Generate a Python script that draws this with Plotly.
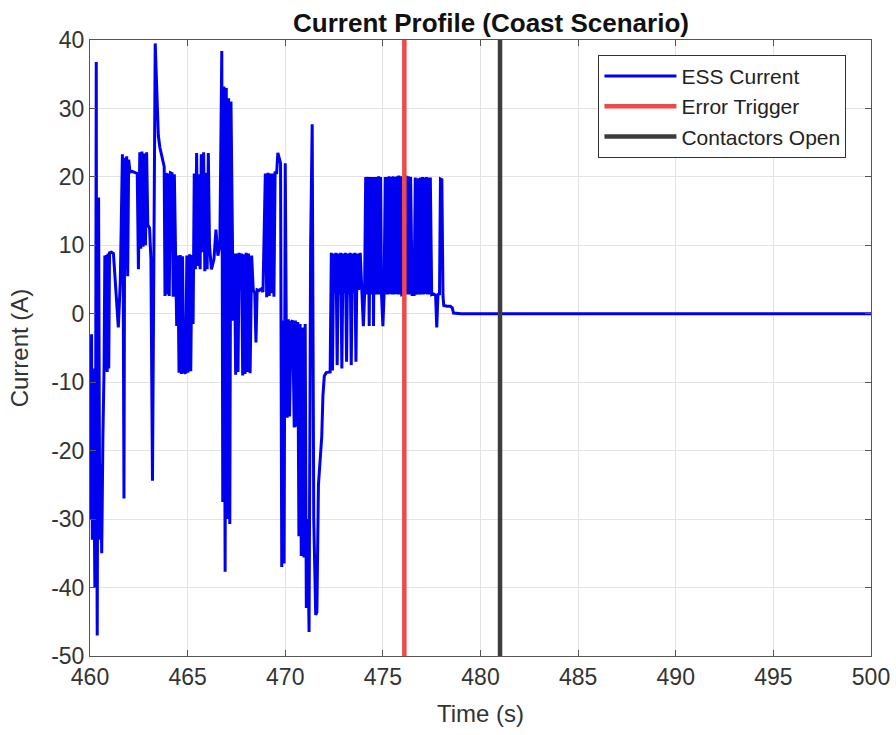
import plotly.graph_objects as go

# ---- data ----
time_s = [
    460.00, 460.04, 460.08, 460.12, 460.16, 460.20, 460.25, 460.29, 460.32, 460.34,
    460.37, 460.40, 460.44, 460.47, 460.50, 460.54, 460.60, 460.66, 460.72, 460.76,
    460.80, 460.84, 460.88, 460.92, 460.96, 461.00, 461.10, 461.20, 461.45, 461.55,
    461.66, 461.70, 461.74, 461.78, 461.84, 461.88, 461.93, 461.98, 462.05, 462.15,
    462.30, 462.42, 462.48, 462.55, 462.60, 462.66, 462.72, 462.78, 462.84, 462.90,
    462.96, 463.05, 463.12, 463.20, 463.34, 463.50, 463.58, 463.70, 463.80, 463.84,
    463.90, 463.95, 464.00, 464.06, 464.12, 464.20, 464.26, 464.32, 464.38, 464.44,
    464.50, 464.56, 464.62, 464.68, 464.74, 464.80, 464.90, 464.96, 465.02, 465.10,
    465.16, 465.22, 465.28, 465.34, 465.40, 465.46, 465.52, 465.58, 465.64, 465.70,
    465.76, 465.82, 465.88, 465.94, 466.00, 466.06, 466.12, 466.22, 466.35, 466.45,
    466.55, 466.65, 466.75, 466.80, 466.86, 466.92, 466.98, 467.04, 467.10, 467.16,
    467.22, 467.28, 467.34, 467.40, 467.46, 467.52, 467.58, 467.64, 467.70, 467.76,
    467.82, 467.88, 467.94, 468.00, 468.06, 468.12, 468.20, 468.28, 468.36, 468.44,
    468.50, 468.56, 468.66, 468.76, 468.86, 468.98, 469.05, 469.12, 469.18, 469.24,
    469.30, 469.36, 469.42, 469.48, 469.56, 469.62, 469.70, 469.76, 469.82, 469.88,
    469.94, 470.00, 470.05, 470.10, 470.16, 470.22, 470.30, 470.38, 470.46, 470.52,
    470.58, 470.64, 470.70, 470.76, 470.82, 470.88, 470.96, 471.02, 471.08, 471.14,
    471.22, 471.30, 471.38, 471.46, 471.56, 471.62, 471.70, 471.80, 471.87, 471.93,
    472.00, 472.10, 472.20, 472.30, 472.36, 472.42, 472.48, 472.54, 472.60, 472.66,
    472.72, 472.78, 472.84, 472.90, 472.96, 473.02, 473.08, 473.14, 473.20, 473.26,
    473.32, 473.38, 473.44, 473.50, 473.56, 473.62, 473.68, 473.76, 473.84, 473.92,
    474.00, 474.06, 474.12, 474.18, 474.24, 474.30, 474.36, 474.42, 474.48, 474.52,
    474.58, 474.63, 474.68, 474.73, 474.78, 474.83, 474.88, 474.93, 475.00, 475.06,
    475.12, 475.17, 475.22, 475.27, 475.32, 475.37, 475.42, 475.47, 475.52, 475.57,
    475.62, 475.67, 475.72, 475.77, 475.82, 475.87, 475.92, 475.97, 476.08, 476.18,
    476.24, 476.30, 476.36, 476.42, 476.50, 476.60, 476.66, 476.72, 476.82, 476.87,
    476.93, 476.98, 477.03, 477.08, 477.13, 477.18, 477.23, 477.28, 477.33, 477.38,
    477.43, 477.50, 477.60, 477.70, 477.76, 477.82, 477.90, 477.95, 478.02, 478.08,
    478.12, 478.30, 478.45, 478.55, 478.62, 479.00, 500.00,
]
ess_current_a = [
    -12, -30, -3, -33, -8, -25, -40, -15, 36.8, -20,
    -47, -12, 17, -10, -33, -22, -35, -18, -8, 8.5,
    -8.3, 8.6, -8.5, 8.8, -8.0, 8.9, 9.0, 8.8, -2.0, 4.5,
    23.3, 6, -27, 22.8, 6.5, 23.0, 5.5, 22.5, 20.7, 20.8,
    20.6, 20.5, 6.5, 23.6, 9.5, 23.7, 9.8, 23.4, 10, 23.6,
    13, 12.5, 8, -24.4, 39.5, 26, 24.3, 23, 21.5, 2.6,
    20.6, 2.8, 20.5, 2.6, 20.6, 20.5, 2.5, 20.4, 7.8, -1.8,
    8.5, -8.6, 8.6, -8.8, 8.4, -8.5, -8.7, 8.5, -8.6, 8.7,
    -8.4, 8.6, -1.5, 20.5, 6.5, 23.5, 7, 20.4, 6.5, 23.3,
    9, 23.6, 6.2, 20.6, 6.5, 23.5, 10, 6.5, 8, 12.3,
    8.5, 10, 38.4, -27.5, 33.2, -37.7, 33, -30, 31.5, -30.7,
    31, 8.9, -1, 8.8, -8.9, 8.8, -8.5, 8.9, 3.5, 8.8,
    -9, 8.7, -8.8, 8.9, -8.5, 8.8, -8.7, 8.5, 3.5, 3.0,
    -4.2, 3.5, 3.4, 3.6, 3.2, 20.5, 2.4, 20.6, 2.6, 20.5,
    3.0, 20.5, 2.5, 20.6, 20.6, 23.5, 22.5, 22, -37, -1,
    -36.5, 22, -1.0, -15.2, -0.8, -15, -1.2, -1.0, -16.6, -1.0,
    -16.5, -1.2, -32.5, -1.5, -35.4, -2, -35.6, -1.5, -43, -30,
    -46.5, 10, 27.7, -30, -44, -43.6, -25, -20, -17.9, -12,
    -9.1, -8.6, -8.6, -8.5, 8.9, -8.3, 8.8, 3, 8.9, -7.5,
    8.8, 2.8, 8.9, -8, 8.8, 3, 8.9, -7, 8.8, 2.8,
    8.9, -7.5, 8.8, 3, 8.9, -7, 8.8, 3.5, 8.9, 3.2,
    -1.8, 2.6, 20, 2.8, 20, -1.8, 20, 2.8, 20, -1.8,
    20, 2.8, 20, 2.8, 20.1, 2.8, 20, 2.9, -1.8, 2.8,
    20, 2.8, 20, 2.8, 20.1, 2.9, 20, 2.8, 20.1, 2.8,
    20, 2.9, 20.1, 2.8, 20.2, 2.8, 20.1, 2.8, 2.9, 20.2,
    2.8, 20.1, 2.8, 20, 2.8, 2.8, 19.9, 2.8, 19.8, 2.8,
    19.9, 2.8, 20, 2.8, 19.9, 2.9, 20, 2.8, 19.9, 2.8,
    19.9, 2.8, 2.9, 2.7, -2, 2.8, 2.9, 19.7, 19.6, 2.5,
    1.2, 1.1, 1.1, 0.9, 0.1, 0, 0,
]
error_trigger_t = 476.1
contactors_open_t = 481.0

x_ticks = [460, 465, 470, 475, 480, 485, 490, 495, 500]
x_tick_labels = ["460", "465", "470", "475", "480", "485", "490", "495", "500"]
y_ticks = [-50, -40, -30, -20, -10, 0, 10, 20, 30, 40]
y_tick_labels = ["-50", "-40", "-30", "-20", "-10", "0", "10", "20", "30", "40"]

y_min, y_max = y_ticks[0], y_ticks[-1]
x_min, x_max = x_ticks[0], x_ticks[-1]

FONT = "Liberation Sans, Arial, sans-serif"

fig = go.Figure()
fig.add_trace(go.Scatter(
    x=time_s, y=ess_current_a, mode="lines", name="ESS Current",
    line=dict(color="#0000f0", width=3),
))
fig.add_trace(go.Scatter(
    x=[error_trigger_t, error_trigger_t], y=[y_min, y_max], mode="lines",
    name="Error Trigger", line=dict(color="#f04848", width=4.5),
))
fig.add_trace(go.Scatter(
    x=[contactors_open_t, contactors_open_t], y=[y_min, y_max], mode="lines",
    name="Contactors Open", line=dict(color="#3c3c3c", width=4.5),
))

axis_common = dict(
    showgrid=True, gridcolor="#e3e3e3", gridwidth=1,
    showline=True, linecolor="#555555", linewidth=1, mirror="ticks",
    ticks="inside", ticklen=6, tickcolor="#555555",
    tickfont=dict(family=FONT, size=23, color="#333333"),
    zeroline=False, automargin=False,
)

fig.update_layout(
    width=896, height=735,
    margin=dict(l=90, r=25, t=40, b=79),
    paper_bgcolor="white", plot_bgcolor="white",
    title=dict(text="<b>Current Profile (Coast Scenario)</b>", x=0.548, xanchor="center",
               y=0.969, yanchor="middle",
               font=dict(family=FONT, size=26, color="#111111")),
    xaxis=dict(range=[x_min, x_max], tickvals=x_ticks, ticktext=x_tick_labels,
               title=dict(text="Time (s)", font=dict(family=FONT, size=24, color="#333333"),
                          standoff=16),
               **axis_common),
    yaxis=dict(range=[y_min, y_max], tickvals=y_ticks, ticktext=y_tick_labels,
               title=dict(text="Current (A)", font=dict(family=FONT, size=24, color="#333333"),
                          standoff=15),
               **axis_common),
    legend=dict(x=0.651, y=0.976, xanchor="left", yanchor="top",
                bgcolor="white", bordercolor="#333333", borderwidth=1,
                font=dict(family=FONT, size=21, color="#222222"),
                itemwidth=72, tracegroupgap=0),
    showlegend=True,
)

fig.write_html("out.html")
